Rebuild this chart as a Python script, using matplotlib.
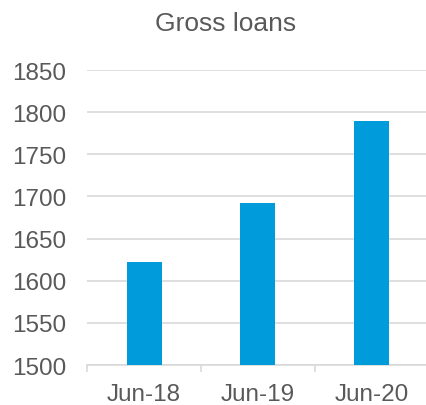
import matplotlib
matplotlib.use('Agg')
import matplotlib.pyplot as plt
from matplotlib.ticker import FixedLocator

plt.rcParams.update({
    'font.family': ['Liberation Sans', 'DejaVu Sans'],
    'font.size': 17,
})

categories = ['Jun-18', 'Jun-19', 'Jun-20']
gross_loans = [1622, 1692, 1790]
y_ticks = [1500, 1550, 1600, 1650, 1700, 1750, 1800, 1850]

text_color = '#595959'
grid_color = '#D9D9D9'
bar_color = '#009BDB'

fig = plt.figure(figsize=(4.26, 4.06), dpi=100)
ax = fig.add_axes([0.205, 0.0985, 0.8005, 0.7265])

x = range(len(categories))
ax.bar(x, gross_loans, width=0.31, color=bar_color, zorder=3)

ax.set_xlim(-0.5, len(categories) - 0.5)
ax.set_ylim(y_ticks[0], y_ticks[-1])
ax.set_yticks(y_ticks)
ax.set_xticks(list(x))
ax.set_xticklabels(categories)
ax.xaxis.set_minor_locator(FixedLocator([i - 0.5 for i in range(len(categories) + 1)]))

ax.grid(axis='y', color=grid_color, linewidth=1.2, zorder=0)
for side in ['top', 'right', 'left']:
    ax.spines[side].set_visible(False)
ax.spines['bottom'].set_color(grid_color)
ax.spines['bottom'].set_linewidth(1.2)

ax.tick_params(axis='y', length=0, pad=15, colors=text_color, labelsize=17.5)
ax.tick_params(axis='x', which='major', length=0, pad=13, colors=text_color, labelsize=17.5)
ax.tick_params(axis='x', which='minor', length=5, width=1.2, color=grid_color)

fig.text(0.53, 0.94, 'Gross loans', ha='center', va='center', color=text_color, fontsize=19)

fig.savefig('out.png', dpi=100)
